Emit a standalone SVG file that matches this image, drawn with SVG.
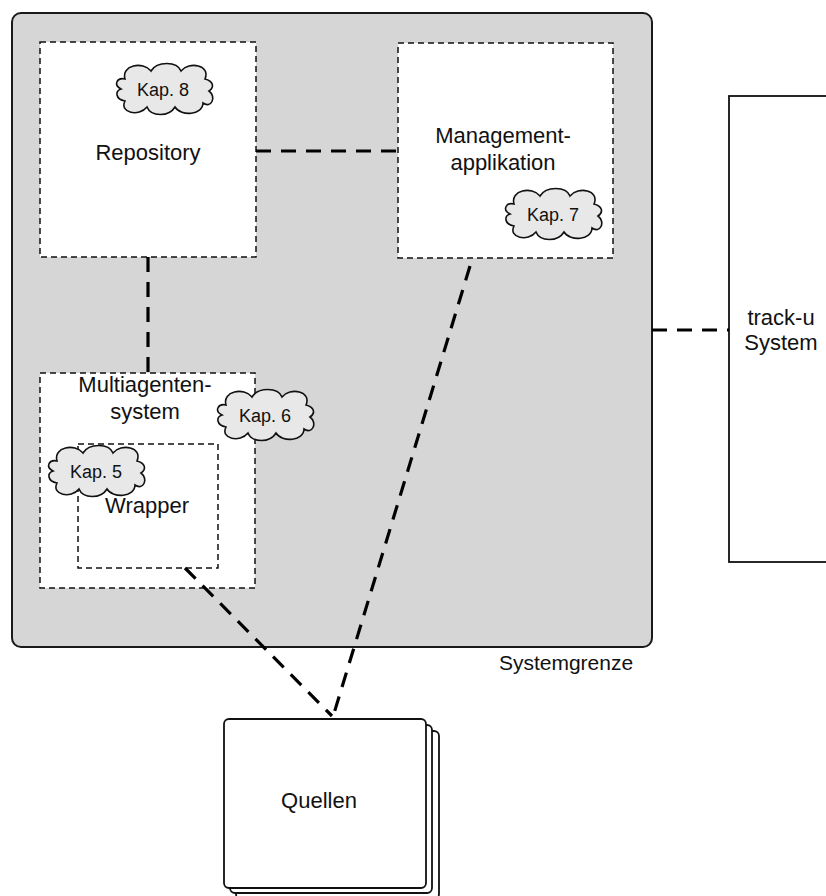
<svg xmlns="http://www.w3.org/2000/svg" xmlns:xlink="http://www.w3.org/1999/xlink" width="826" height="896" viewBox="0 0 826 896">
  <style>
    .lbl { font-family: "Liberation Sans", Arial, Helvetica, sans-serif; font-size: 22px; fill: #111; text-anchor: middle; }
    .kap { font-family: "Liberation Sans", Arial, Helvetica, sans-serif; font-size: 18px; fill: #111; text-anchor: middle; }
    .comp { fill: #ffffff; stroke: #111; stroke-width: 1.5; stroke-dasharray: 6 4; }
    .link { fill: none; stroke: #000; stroke-width: 3.2; stroke-dasharray: 15 10; }
    .solid { fill: #ffffff; stroke: #111; stroke-width: 1.8; }
    .cloud { fill: #e8e8e8; stroke: #111; stroke-width: 1.6; }
  </style>
  <defs>
    <!-- cloud-shaped chapter tag, centred on the origin -->
    <path id="cloudShape" d="M -40,-10 C -44,-24 -22,-28 -14,-18 C -8,-28 12,-28 16,-18 C 24,-28 46,-24 40,-10 C 48,-8 50,-2 44,2 C 52,8 46,20 38,14 C 38,26 16,28 10,18 C 4,28 -14,28 -18,18 C -26,28 -46,24 -40,12 C -50,10 -50,2 -44,0 C -52,-4 -48,-12 -40,-10 Z"/>
  </defs>

  <!-- system boundary -->
  <g id="systemgrenze">
    <rect x="12" y="13" width="640" height="634" rx="9" ry="9" fill="#d6d6d6" stroke="#1a1a1a" stroke-width="2"/>
    <text class="lbl" x="566" y="670" style="font-size:21px">Systemgrenze</text>
  </g>

  <g id="repository">
    <rect class="comp" x="40" y="42" width="216" height="215"/>
    <text class="lbl" x="148" y="160">Repository</text>
    <use xlink:href="#cloudShape" class="cloud" transform="translate(165,89)"/>
    <text class="kap" x="163" y="96">Kap. 8</text>
  </g>

  <g id="management">
    <rect class="comp" x="398" y="43" width="215" height="215"/>
    <text class="lbl" x="503" y="143">Management-</text>
    <text class="lbl" x="503" y="170">applikation</text>
    <use xlink:href="#cloudShape" class="cloud" transform="translate(554,214)"/>
    <text class="kap" x="553" y="221">Kap. 7</text>
  </g>

  <g id="multiagentensystem">
    <rect class="comp" x="40" y="373" width="215" height="215"/>
    <text class="lbl" x="145" y="392">Multiagenten-</text>
    <text class="lbl" x="145" y="419">system</text>
    <use xlink:href="#cloudShape" class="cloud" transform="translate(266,415)"/>
    <text class="kap" x="265" y="422">Kap. 6</text>
  </g>

  <g id="wrapper">
    <rect class="comp" x="78" y="444" width="140" height="124"/>
    <text class="lbl" x="147" y="513">Wrapper</text>
    <use xlink:href="#cloudShape" class="cloud" transform="translate(97,471)"/>
    <text class="kap" x="96" y="478">Kap. 5</text>
  </g>

  <g id="track-u">
    <rect class="solid" x="729" y="96" width="120" height="466"/>
    <text class="lbl" x="781" y="325">track-u</text>
    <text class="lbl" x="781" y="350">System</text>
  </g>

  <g id="quellen">
    <rect class="solid" x="236" y="731" width="203" height="168" rx="5" ry="5"/>
    <rect class="solid" x="230" y="725" width="202" height="168" rx="5" ry="5"/>
    <rect class="solid" x="224" y="719" width="202" height="169" rx="5" ry="5"/>
    <text class="lbl" x="319" y="808">Quellen</text>
  </g>

  <!-- connectors, drawn above the boxes -->
  <g id="connectors">
    <line class="link" x1="256" y1="151" x2="398" y2="151"/>
    <line class="link" x1="148" y1="257" x2="148" y2="373"/>
    <line class="link" x1="470" y1="266" x2="332" y2="720"/>
    <line class="link" x1="185" y1="568" x2="332" y2="716"/>
    <line class="link" x1="652" y1="330" x2="729" y2="330"/>
  </g>
</svg>
